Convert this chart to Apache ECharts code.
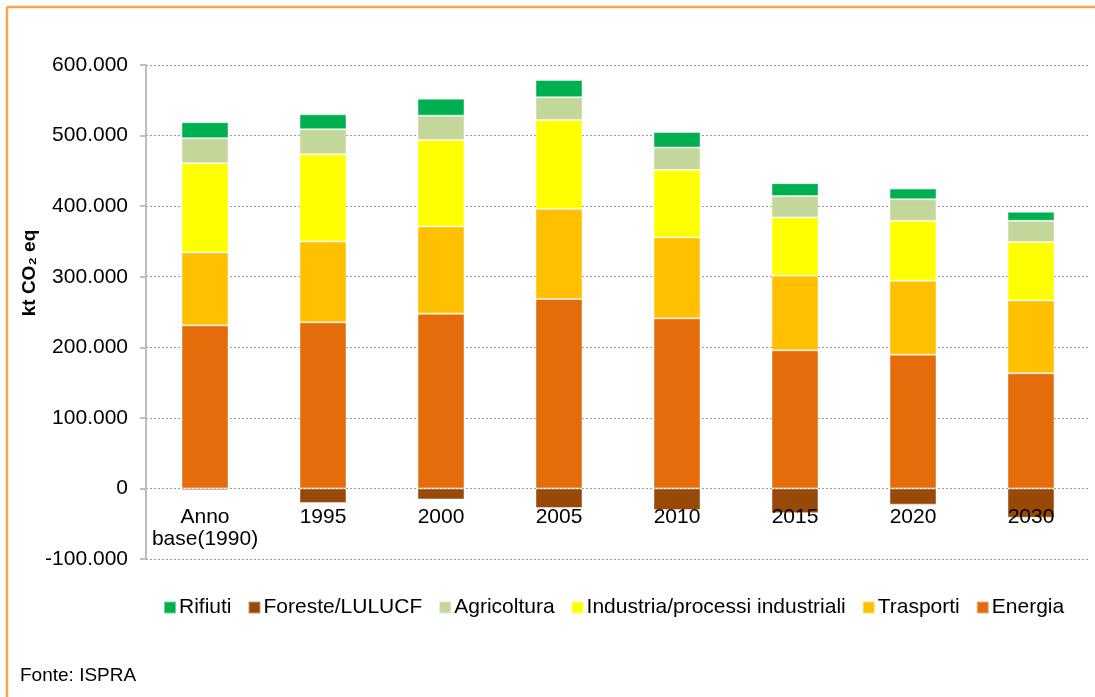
<!DOCTYPE html>
<html>
<head>
<meta charset="utf-8">
<script src="https://cdn.jsdelivr.net/npm/echarts@6/dist/echarts.min.js"></script>
<style>
html,body{margin:0;padding:0;background:#fff;}
#chart{width:1095px;height:697px;}
</style>
</head>
<body>
<div id="chart"></div>
<script>
var categories = ['Anno\nbase(1990)', '1995', '2000', '2005', '2010', '2015', '2020', '2030'];
var energia = [231100, 235300, 247600, 268400, 241000, 195700, 189600, 163200];
var trasporti = [103300, 114600, 123600, 127800, 114600, 105700, 104700, 103200];
var industria = [126500, 123700, 122600, 126000, 95800, 82500, 84900, 82700];
var agricoltura = [35400, 35400, 34400, 32100, 31600, 30300, 30700, 30100];
var rifiuti = [22600, 21200, 24100, 24500, 22200, 18400, 15000, 12800];
var foreste = [-2500, -20800, -15600, -27800, -30700, -35000, -23000, -41500];
var legendOrder = ['Rifiuti', 'Foreste/LULUCF', 'Agricoltura', 'Industria/processi industriali', 'Trasporti', 'Energia'];

var FONT = '"Liberation Sans", Arial, sans-serif';
var chart = echarts.init(document.getElementById('chart'), null, {renderer: 'canvas'});

function mk(name, data, color) {
  return {
    name: name, type: 'bar', stack: 'tot', data: data, barWidth: 47,
    itemStyle: {color: color, borderColor: 'rgba(255,255,255,0.45)', borderWidth: 1},
    emphasis: {disabled: true}
  };
}

chart.setOption({
  animation: false,
  backgroundColor: '#fff',
  grid: {left: 146, right: 5, top: 65, bottom: 138, containLabel: false},
  legend: {
    data: legendOrder, left: 158, top: 592, itemWidth: 12, itemHeight: 12, itemGap: 16,
    icon: 'rect',
    textStyle: {fontFamily: FONT, fontSize: 21, color: '#000', padding: [0, 0, 0, -2]}
  },
  xAxis: {
    type: 'category', data: categories, z: 10,
    axisLine: {show: false, onZero: false}, axisTick: {show: false},
    axisLabel: {fontFamily: FONT, fontSize: 21, color: '#000', margin: -53, lineHeight: 22, interval: 0, verticalAlign: 'top'}
  },
  yAxis: {
    type: 'value', min: -100000, max: 600000, interval: 100000,
    axisLine: {show: true, lineStyle: {color: '#BFBFBF', width: 2}},
    axisTick: {show: true, length: 6, lineStyle: {color: '#BFBFBF', width: 2}},
    axisLabel: {
      fontFamily: FONT, fontSize: 21, color: '#000', margin: 18,
      formatter: function (v) {
        var s = Math.abs(v).toString().replace(/\B(?=(\d{3})+(?!\d))/g, '.');
        return (v < 0 ? '-' : '') + s;
      }
    },
    splitLine: {show: true, lineStyle: {color: '#9A9A9A', type: [2, 2], width: 1}}
  },
  series: [
    mk('Energia', energia, '#E46C0A'),
    mk('Trasporti', trasporti, '#FFC000'),
    mk('Industria/processi industriali', industria, '#FFFF00'),
    mk('Agricoltura', agricoltura, '#C4D79B'),
    mk('Rifiuti', rifiuti, '#00B050'),
    mk('Foreste/LULUCF', foreste, '#984807')
  ],
  graphic: [
    {type: 'line', shape: {x1: 7, y1: 7, x2: 1095, y2: 7}, style: {stroke: '#F9A54B', lineWidth: 2.5}},
    {type: 'line', shape: {x1: 7, y1: 7, x2: 7, y2: 697}, style: {stroke: '#F9A54B', lineWidth: 2.5}},
    {type: 'text', x: 30, y: 273, rotation: Math.PI / 2,
      style: {text: 'kt CO\u2082 eq', font: 'bold 19px "Liberation Sans", Arial, sans-serif', fill: '#000', align: 'center', verticalAlign: 'middle'}},
    {type: 'text', left: 20, top: 666, style: {text: 'Fonte: ISPRA', font: '19px "Liberation Sans", Arial, sans-serif', fill: '#000'}}
  ]
});
</script>
</body>
</html>
